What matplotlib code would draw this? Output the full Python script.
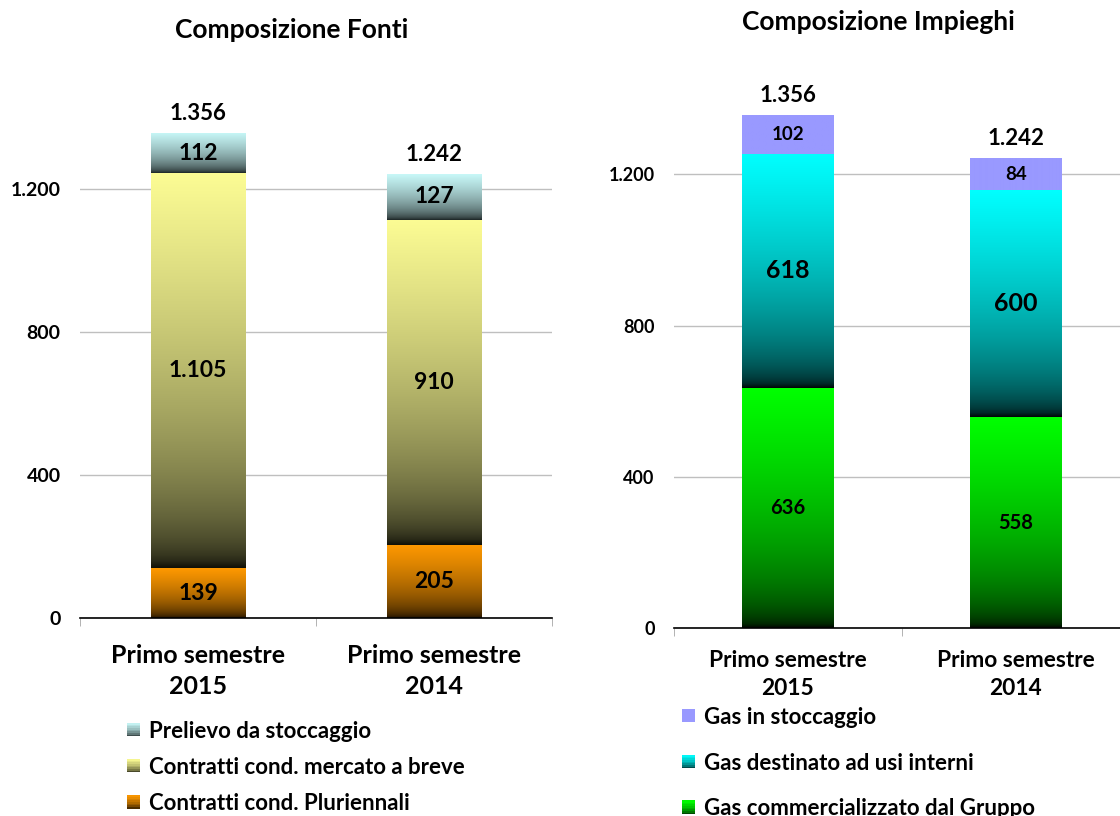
import numpy as np
import matplotlib.pyplot as plt
from matplotlib.colors import LinearSegmentedColormap, to_rgb
from matplotlib.patches import Rectangle
from matplotlib.legend_handler import HandlerBase

plt.rcParams['font.family'] = ['Lato', 'DejaVu Sans']
plt.rcParams['font.weight'] = 'bold'

## Dati (milioni di mc)
periodi = ['Primo semestre\n2015', 'Primo semestre\n2014']

fonti_nomi = ['Contratti cond. Pluriennali', 'Contratti cond. mercato a breve',
              'Prelievo da stoccaggio']
pluriennali = [139, 205]
breve = [1105, 910]
prelievo = [112, 127]
fonti_totali = [1356, 1242]

impieghi_nomi = ['Gas commercializzato dal Gruppo', 'Gas destinato ad usi interni',
                 'Gas in stoccaggio']
commercializzato = [636, 558]
usi_interni = [618, 600]
stoccaggio = [102, 84]
impieghi_totali = [1356, 1242]

yticks = [0, 400, 800, 1200]


def fmt(v):
  return '{:,}'.format(v).replace(',', '.')


def mappa(top, bottom):
  # sfumatura dal basso (scuro) all'alto, interpolata in luce lineare
  if bottom is None:
    return LinearSegmentedColormap.from_list('g', [top, top])
  a = np.array(to_rgb(bottom)) ** 2.2
  b = np.array(to_rgb(top)) ** 2.2
  t = np.linspace(0, 1, 64)[:, None]
  cols = ((1 - t) * a + t * b) ** (1 / 2.2)
  return LinearSegmentedColormap.from_list('g', np.clip(cols, 0, 1))


def gradiente(ax, bar, cmap):
  x, y = bar.get_x(), bar.get_y()
  w, h = bar.get_width(), bar.get_height()
  img = ax.imshow(np.linspace(0, 1, 256).reshape(-1, 1), cmap=cmap, origin='lower',
                  extent=(x, x + w, y, y + h), aspect='auto', zorder=2,
                  interpolation='bilinear')
  img.set_clip_path(bar)


class Chiave:
  def __init__(self, cmap):
    self.cmap = cmap


class HandlerGradiente(HandlerBase):
  def create_artists(self, legend, orig_handle, xdescent, ydescent, width, height,
                     fontsize, trans):
    n = 8
    lato = height
    out = []
    for i in range(n):
      r = Rectangle((-xdescent, -ydescent + i * lato / n), lato, lato / n + 0.3,
                    facecolor=orig_handle.cmap((i + 0.5) / n), edgecolor='none',
                    transform=trans)
      out.append(r)
    return out


def pannello(ax, serie, cmaps, totali, etichette_size, tick_fs, cat_fs, cat_pad):
  x = np.arange(len(periodi))
  base = np.zeros(len(periodi))
  for vals, cmap, fs in zip(serie, cmaps, etichette_size):
    bars = ax.bar(x, vals, 0.4, bottom=base, color='none', edgecolor='none', zorder=2)
    for b, v, y0 in zip(bars, vals, base):
      gradiente(ax, b, cmap)
      ax.text(b.get_x() + b.get_width() / 2, y0 + v / 2, fmt(v), ha='center',
              va='center', fontsize=fs, fontweight='bold', zorder=4)
    base = base + np.array(vals)
  for xi, t in zip(x, totali):
    ax.text(xi, t + 25, fmt(t), ha='center', va='bottom', fontsize=16,
            fontweight='bold')
  ax.set_xlim(-0.5, 1.5)
  ax.set_ylim(0, 1500)
  ax.set_yticks(yticks)
  ax.set_yticklabels([fmt(v) for v in yticks])
  ax.yaxis.grid(True, color='#bfbfbf', linewidth=1)
  ax.set_axisbelow(True)
  ax.tick_params(axis='y', length=0, pad=14, labelsize=tick_fs)
  ax.set_xticks(x)
  ax.set_xticklabels(periodi, fontsize=cat_fs, fontweight='bold', linespacing=1.42)
  ax.tick_params(axis='x', length=0, pad=cat_pad)
  ax.set_xticks([-0.5, 0.5, 1.5], minor=True)
  ax.tick_params(axis='x', which='minor', length=6, color='#a6a6a6')
  for s in ['left', 'right', 'top']:
    ax.spines[s].set_visible(False)
  ax.spines['bottom'].set_color('black')
  ax.spines['bottom'].set_linewidth(1.2)


fig = plt.figure(figsize=(11.2, 8.16), dpi=100)

## Composizione Fonti
ax1 = fig.add_axes([0.0714, 0.2426, 0.4214, 0.657])
cmap_fonti = [mappa('#ff9900', '#1c0e00'), mappa('#fcfc94', '#121208'),
              mappa('#c8f8f8', '#1a2222')]
pannello(ax1, [pluriennali, breve, prelievo], cmap_fonti, fonti_totali,
         [16.5, 16.5, 16.5], 14, 18, 19)
fig.text(0.26, 0.963, 'Composizione Fonti', ha='center', va='center', fontsize=19,
         fontweight='bold')

## Composizione Impieghi
ax2 = fig.add_axes([0.6018, 0.2304, 0.407, 0.695])
cmap_impieghi = [mappa('#00ff00', '#000800'), mappa('#00ffff', '#000808'),
                 mappa('#9999ff', None)]
pannello(ax2, [commercializzato, usi_interni, stoccaggio], cmap_impieghi,
         impieghi_totali, [14.5, 18, 13.5], 13, 16.4, 16)
fig.text(0.784, 0.973, 'Composizione Impieghi', ha='center', va='center', fontsize=19,
         fontweight='bold')

## Legende
hm = {Chiave: HandlerGradiente()}
fig.legend([Chiave(c) for c in cmap_fonti][::-1], fonti_nomi[::-1], loc='upper left',
           bbox_to_anchor=(0.113, 0.117), frameon=False, handler_map=hm,
           handlelength=0.55, handleheight=0.55, handletextpad=0.45,
           labelspacing=0.68, borderpad=0, borderaxespad=0,
           prop={'weight': 'bold', 'size': 16})
fig.legend([Chiave(c) for c in cmap_impieghi][::-1], impieghi_nomi[::-1],
           loc='upper left', bbox_to_anchor=(0.609, 0.134), frameon=False,
           handler_map=hm, handlelength=0.55, handleheight=0.55, handletextpad=0.45,
           labelspacing=1.12, borderpad=0, borderaxespad=0,
           prop={'weight': 'bold', 'size': 16})

plt.savefig('out.png', dpi=100)
